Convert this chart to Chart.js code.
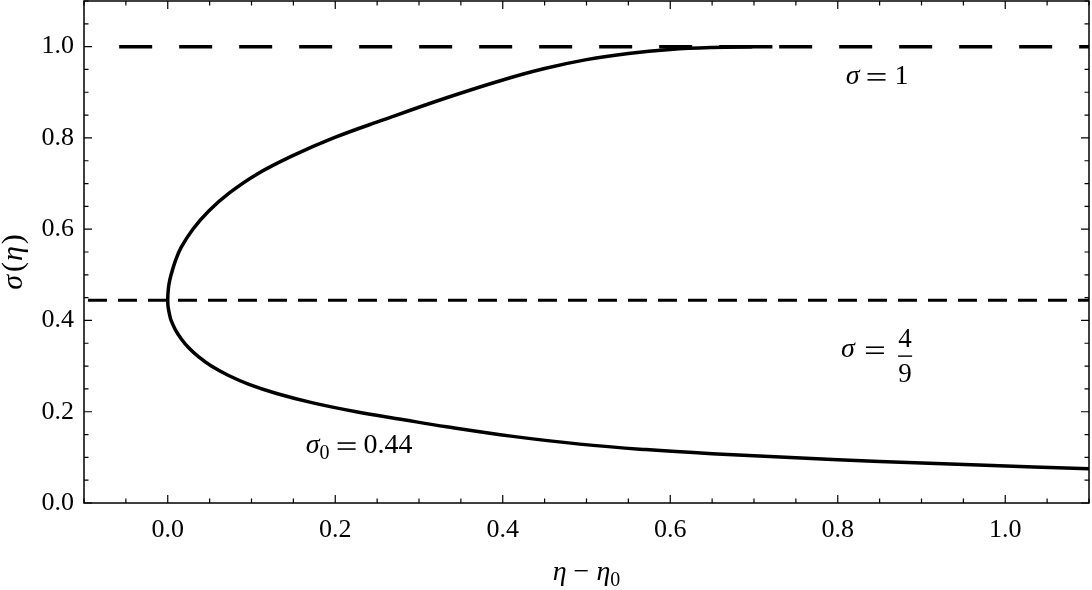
<!DOCTYPE html>
<html>
<head>
<meta charset="utf-8">
<script src="https://cdn.jsdelivr.net/npm/chart.js@4.4.1/dist/chart.umd.min.js"></script>
<style>
  html, body { margin: 0; padding: 0; background: #fff; }
  #wrap { width: 1092px; height: 590px; }
</style>
</head>
<body>
<div id="wrap"><canvas id="myChart" width="1092" height="590"></canvas></div>
<script>
// curve, upper branch end -> vertex -> lower branch end
const curveEta = [
  0.722, 0.700, 0.650, 0.600, 0.550, 0.500, 0.450, 0.400, 0.333, 0.258,
  0.198, 0.148, 0.106, 0.074, 0.049, 0.030, 0.016, 0.009, 0.004, 0.0015,
  0.0003, 0.000,
  0.0004, 0.0025, 0.004, 0.009, 0.016, 0.025, 0.037, 0.052, 0.072, 0.097,
  0.130, 0.172, 0.225, 0.280, 0.333, 0.412, 0.492, 0.571, 0.650, 0.750,
  0.850, 0.968, 1.100
];
const curveSigma = [
  1.000, 0.9995, 0.998, 0.9937, 0.985, 0.9715, 0.952, 0.927, 0.888, 0.840,
  0.800, 0.760, 0.720, 0.680, 0.640, 0.600, 0.560, 0.530, 0.500, 0.480,
  0.460, 0.444,
  0.430, 0.410, 0.400, 0.380, 0.360, 0.340, 0.320, 0.300, 0.280, 0.260,
  0.240, 0.220, 0.200, 0.183, 0.167, 0.146, 0.129, 0.117, 0.108, 0.099,
  0.091, 0.083, 0.075
];
const sigmaOne = 1;
const sigmaCrit = 4 / 9;
const lineEta = [-0.058, 1.1];
const critEta = [-0.1, 1.1];
const xTicks = [0, 0.2, 0.4, 0.6, 0.8, 1.0];
const yTicks = [0, 0.2, 0.4, 0.6, 0.8, 1.0];

const SERIF = '"Liberation Serif", "Times New Roman", serif';
const EQ_W = 18;

function fontOf(kind, size) {
  if (kind === 'i') return `italic ${size}px ${SERIF}`;
  if (kind === 's') return `${Math.round(size * 0.72)}px ${SERIF}`;
  return `${size}px ${SERIF}`;
}

// parts: [text, kind], kind = 'i' italic, 'r' roman, 's' subscript, 'eq' equals sign, 'g' gap in px
function partWidth(ctx, p, size) {
  if (p[1] === 'g') return p[0];
  if (p[1] === 'eq') return EQ_W;
  ctx.font = fontOf(p[1], size);
  return ctx.measureText(p[0]).width;
}

function drawRich(ctx, parts, x, y, size, align) {
  const total = parts.reduce((w, p) => w + partWidth(ctx, p, size), 0);
  let cx = align === 'left' ? x : x - total / 2;
  ctx.textAlign = 'left';
  ctx.textBaseline = 'alphabetic';
  parts.forEach(p => {
    const w = partWidth(ctx, p, size);
    if (p[1] === 'eq') {
      ctx.fillRect(cx, y - 11, EQ_W, 1.6);
      ctx.fillRect(cx, y - 5, EQ_W, 1.6);
    } else if (p[1] !== 'g') {
      ctx.font = fontOf(p[1], size);
      ctx.fillText(p[0], cx, p[1] === 's' ? y + size * 0.2 : y);
    }
    cx += w;
  });
}

const framePlugin = {
  id: 'frame',
  afterDraw(chart) {
    const ctx = chart.ctx;
    const a = chart.chartArea;
    const xs = chart.scales.x;
    const ys = chart.scales.y;
    ctx.save();
    ctx.strokeStyle = '#000';
    ctx.fillStyle = '#000';
    ctx.lineWidth = 1.5;
    ctx.strokeRect(a.left, a.top, a.right - a.left, a.bottom - a.top);

    // inward ticks on all four sides
    ctx.lineWidth = 1.2;
    for (let i = -2; i <= 22; i++) {
      const v = i * 0.05;
      if (v < xs.min - 1e-9 || v > xs.max + 1e-9) continue;
      const len = i % 4 === 0 ? 8 : 4.5;
      const px = xs.getPixelForValue(v);
      ctx.beginPath();
      ctx.moveTo(px, a.bottom); ctx.lineTo(px, a.bottom - len);
      ctx.moveTo(px, a.top); ctx.lineTo(px, a.top + len);
      ctx.stroke();
    }
    for (let i = 0; i <= 22; i++) {
      const v = i * 0.05;
      if (v > ys.max + 1e-9) continue;
      const len = i % 4 === 0 ? 8 : 4.5;
      const py = ys.getPixelForValue(v);
      ctx.beginPath();
      ctx.moveTo(a.left, py); ctx.lineTo(a.left + len, py);
      ctx.moveTo(a.right, py); ctx.lineTo(a.right - len, py);
      ctx.stroke();
    }

    const size = 28;
    // annotations
    drawRich(ctx, [['σ', 'i'], [8, 'g'], ['=', 'eq'], [9, 'g'], ['1', 'r']],
      xs.getPixelForValue(0.847), ys.getPixelForValue(0.918), size);
    drawRich(ctx, [['σ', 'i'], ['0', 's'], [8, 'g'], ['=', 'eq'], [8, 'g'], ['0.44', 'r']],
      xs.getPixelForValue(0.2286), ys.getPixelForValue(0.109), size);

    const fx = xs.getPixelForValue(0.804);
    const fy = ys.getPixelForValue(0.319);
    drawRich(ctx, [['σ', 'i'], [11, 'g'], ['=', 'eq']], fx, fy, size, 'left');
    ctx.font = fontOf('r', size - 1);
    ctx.textAlign = 'center';
    ctx.fillText('4', fx + 64, fy - 10);
    ctx.fillText('9', fx + 64, fy + 25);
    ctx.fillRect(fx + 57, fy - 2, 14, 1.4);

    // axis titles
    drawRich(ctx, [['η', 'i'], [7, 'g'], ['−', 'r'], [7, 'g'], ['η', 'i'], ['0', 's']],
      (a.left + a.right) / 2, 580, size);
    ctx.translate(22, 262);
    ctx.rotate(-Math.PI / 2);
    drawRich(ctx, [['σ', 'i'], [3, 'g'], ['(', 'r'], [1, 'g'], ['η', 'i'], [2, 'g'], [')', 'r']], 0, 0, size + 2);
    ctx.restore();
  }
};

const tickFont = { family: SERIF, size: 26 };

new Chart(document.getElementById('myChart'), {
  type: 'scatter',
  data: {
    datasets: [
      {
        data: lineEta.map(x => ({ x, y: sigmaOne })),
        showLine: true,
        borderColor: '#000',
        borderWidth: 3.5,
        borderDash: [33, 27],
        pointRadius: 0
      },
      {
        data: critEta.map(x => ({ x, y: sigmaCrit })),
        showLine: true,
        borderColor: '#000',
        borderWidth: 3,
        borderDash: [19, 11],
        borderDashOffset: 26,
        pointRadius: 0
      },
      {
        data: curveEta.map((x, i) => ({ x, y: curveSigma[i] })),
        showLine: true,
        borderColor: '#000',
        borderWidth: 3.5,
        tension: 0.4,
        pointRadius: 0
      }
    ]
  },
  options: {
    responsive: false,
    devicePixelRatio: 1,
    animation: false,
    layout: { padding: { top: 1, right: 3, left: 0, bottom: 0 } },
    plugins: { legend: { display: false }, tooltip: { enabled: false } },
    scales: {
      x: {
        type: 'linear',
        min: -0.1,
        max: 1.1,
        afterBuildTicks: s => { s.ticks = xTicks.map(v => ({ value: v })); },
        afterFit: s => { s.height = 87; s.paddingLeft = 0; s.paddingRight = 0; },
        grid: { display: false, drawTicks: false },
        border: { display: false },
        ticks: {
          color: '#000',
          font: tickFont,
          padding: 12,
          maxRotation: 0,
          autoSkip: false,
          callback: v => v.toFixed(1)
        }
      },
      y: {
        type: 'linear',
        min: 0,
        max: 1.1,
        afterBuildTicks: s => { s.ticks = yTicks.map(v => ({ value: v })); },
        afterFit: s => { s.width = 84; s.paddingTop = 0; s.paddingBottom = 0; },
        grid: { display: false, drawTicks: false },
        border: { display: false },
        ticks: {
          color: '#000',
          font: tickFont,
          padding: 10,
          autoSkip: false,
          callback: v => v.toFixed(1)
        }
      }
    }
  },
  plugins: [framePlugin]
});
</script>
</body>
</html>
